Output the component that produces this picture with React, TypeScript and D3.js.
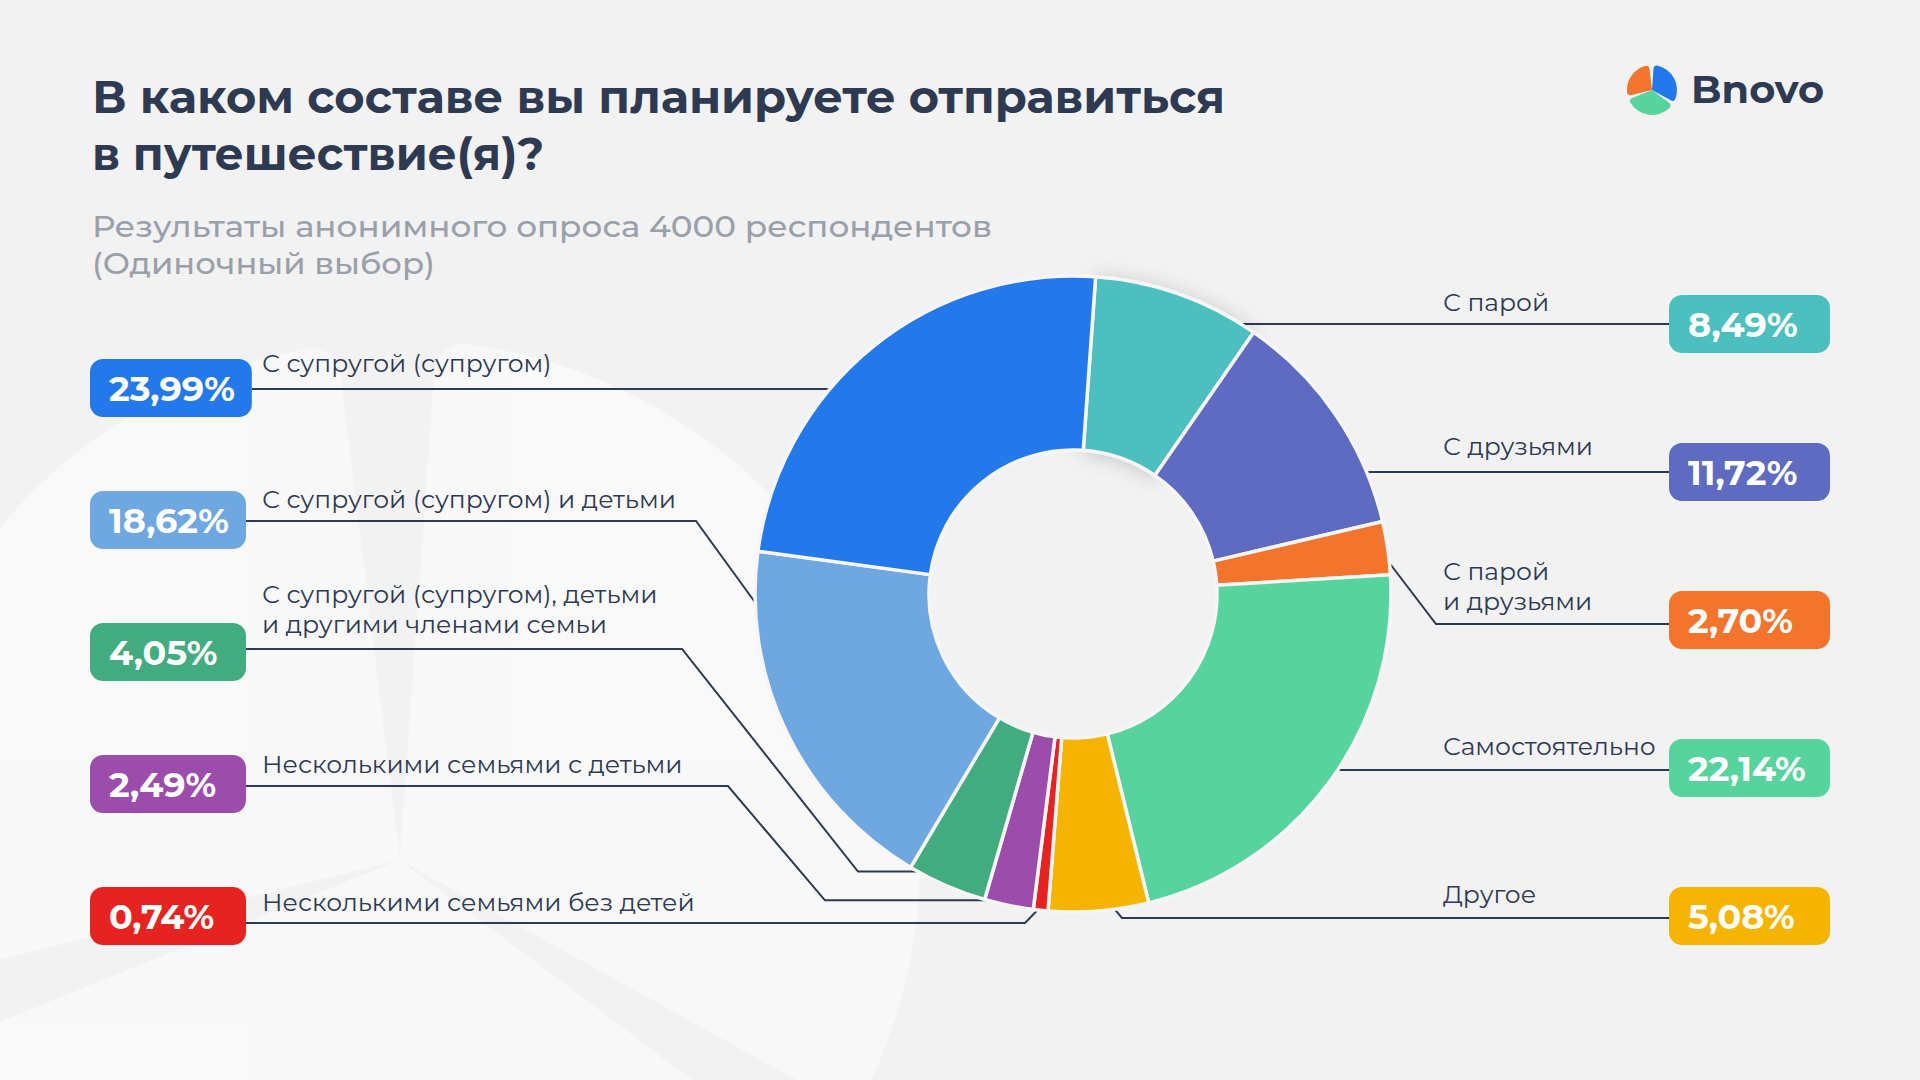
import React, { useMemo } from "react";
import * as d3 from "d3";

// ---------- DATA (pie order, clockwise) ----------
const categories = [
  "С парой",
  "С друзьями",
  "С парой\nи друзьями",
  "Самостоятельно",
  "Другое",
  "Несколькими семьями без детей",
  "Несколькими семьями с детьми",
  "С супругой (супругом), детьми\nи другими членами семьи",
  "С супругой (супругом) и детьми",
  "С супругой (супругом)",
];
const values = [8.49, 11.72, 2.7, 22.14, 5.08, 0.74, 2.49, 4.05, 18.62, 23.99];
const colors = [
  "#4ebfbf",
  "#5e6bc0",
  "#f2742d",
  "#57d49e",
  "#f5b400",
  "#e52421",
  "#9c4dab",
  "#42ac80",
  "#6fa8e0",
  "#2479ea",
];
const titleLines = ["В каком составе вы планируете отправиться", "в путешествие(я)?"];
const subtitleLines = ["Результаты анонимного опроса 4000 респондентов", "(Одиночный выбор)"];
const brand = "Bnovo";

// ---------- LAYOUT ----------
const W = 1920;
const H = 1080;
const CX = 1073;
const CY = 594;
const R_OUT = 318;
const R_IN = 144;
const START_DEG = 4.08;
const FONT = "Montserrat, Inter, 'Open Sans', sans-serif";
const DARK = "#2e3a52";

const leftBadgeCY = [388, 520, 652, 784, 916];
const leftLineY = [389, 521, 649, 786, 923];
const leftLabelBase = [372, 508, 633, 773, 911];
const rightBadgeCY = [324, 472, 620, 768, 916];
const rightLineY = [324, 472, 624, 770, 918];
const rightLabelBase = [311, 455, 610, 755, 903];

type Lay = { side: "L" | "R"; row: number; t?: number; runX?: number; elbowX?: number };
const layout: Lay[] = [
  { side: "R", row: 0 },
  { side: "R", row: 1 },
  { side: "R", row: 2, t: 0.69, elbowX: 1436 },
  { side: "R", row: 3 },
  { side: "R", row: 4, t: 0.36, elbowX: 1122 },
  { side: "L", row: 4, t: 0.55, elbowX: 1025 },
  { side: "L", row: 3, t: 0.7, runX: 825, elbowX: 728 },
  { side: "L", row: 2, t: 0.83, runX: 858, elbowX: 682 },
  { side: "L", row: 1, t: 0.85, elbowX: 696 },
  { side: "L", row: 0 },
];

const LEFT_BADGE_X = 90;
const RIGHT_BADGE_X = 1669;
const RIGHT_BADGE_W = 161;
const BADGE_H = 58;

const fmt = (v: number) => d3.format(".2f")(v).replace(".", ",") + "%";

function measure(text: string, font: string) {
  const c = document.createElement("canvas").getContext("2d");
  if (!c) return text.length * 20;
  c.font = font;
  return c.measureText(text).width;
}

function Logo({ cx, cy, r, pad, corner, colorsSet, opacity }: any) {
  const angles = [
    [0, 123],
    [123, 252],
    [252, 357],
  ];
  const arc = d3
    .arc<any>()
    .innerRadius(0)
    .outerRadius(r)
    .padAngle(pad)
    .cornerRadius(corner);
  return (
    <g transform={`translate(${cx},${cy})`} opacity={opacity}>
      {angles.map((a, i) => (
        <path
          key={i}
          d={
            arc({
              startAngle: (a[0] * Math.PI) / 180,
              endAngle: (a[1] * Math.PI) / 180,
            }) as string
          }
          fill={colorsSet[i]}
        />
      ))}
    </g>
  );
}

export default function App() {
  const arcs = useMemo(
    () =>
      d3
        .pie<number>()
        .sort(null)
        .value((d) => d)
        .startAngle((START_DEG * Math.PI) / 180)
        .endAngle((START_DEG * Math.PI) / 180 + 2 * Math.PI)(values),
    []
  );
  const arcGen = d3.arc<any>().innerRadius(R_IN).outerRadius(R_OUT);
  const lineGen = d3.line();

  const pctFont = `700 35px ${FONT}`;
  const badgeWidths = values.map((v, i) =>
    layout[i].side === "L" ? Math.max(156, measure(fmt(v), pctFont) + 36) : RIGHT_BADGE_W
  );

  const pt = (a: number, rr: number): [number, number] => [
    CX + rr * Math.sin(a),
    CY - rr * Math.cos(a),
  ];

  const leaders = arcs.map((a, i) => {
    const L = layout[i];
    const lineY = L.side === "L" ? leftLineY[L.row] : rightLineY[L.row];
    const badgeEdge = L.side === "L" ? LEFT_BADGE_X + badgeWidths[i] : RIGHT_BADGE_X;
    const pts: [number, number][] = [];
    if (L.t === undefined) {
      const dx = Math.sqrt(Math.max(0, (R_OUT - 3) ** 2 - (lineY - CY) ** 2));
      pts.push([L.side === "L" ? CX - dx : CX + dx, lineY]);
    } else {
      const ang = a.startAngle + L.t * (a.endAngle - a.startAngle);
      const p = pt(ang, R_OUT - 3);
      pts.push(p);
      if (L.runX !== undefined) pts.push([L.runX, p[1]]);
      pts.push([L.elbowX as number, lineY]);
    }
    pts.push([badgeEdge, lineY]);
    return lineGen(pts) as string;
  });

  return (
    <svg
      width={W}
      height={H}
      viewBox={`0 0 ${W} ${H}`}
      style={{ position: "fixed", left: 0, top: 0, display: "block" }}
    >
      <defs>
        <filter id="sh" x="-50%" y="-50%" width="200%" height="200%">
          <feDropShadow dx="0" dy="2" stdDeviation="10" floodColor="#000" floodOpacity="0.18" />
        </filter>
      </defs>
      <rect width={W} height={H} fill="#f2f2f2" />

      {/* watermark */}
      <Logo
        cx={400}
        cy={860}
        r={520}
        pad={0.14}
        corner={30}
        colorsSet={["#ffffff", "#ffffff", "#ffffff"]}
        opacity={0.5}
      />

      {/* title */}
      {titleLines.map((t, i) => (
        <text
          key={i}
          x={92}
          y={113 + i * 57}
          fontFamily={FONT}
          fontWeight={700}
          fontSize={46}
          fill={DARK}
          textLength={i === 0 ? 1133 : 452}
          lengthAdjust="spacingAndGlyphs"
        >
          {t}
        </text>
      ))}
      {subtitleLines.map((t, i) => (
        <text
          key={i}
          x={92}
          y={237 + i * 37}
          fontFamily={FONT}
          fontWeight={500}
          fontSize={30}
          fill="#9aa0aa"
          textLength={i === 0 ? 900 : 343}
          lengthAdjust="spacingAndGlyphs"
        >
          {t}
        </text>
      ))}

      {/* brand logo */}
      <Logo
        cx={1652}
        cy={90}
        r={25}
        pad={0.14}
        corner={3}
        colorsSet={["#2479ea", "#57d49e", "#f2742d"]}
        opacity={1}
      />
      <text
        x={1691}
        y={103}
        fontFamily={FONT}
        fontWeight={700}
        fontSize={38}
        fill={DARK}
        textLength={133}
        lengthAdjust="spacingAndGlyphs"
      >
        {brand}
      </text>

      {/* leader lines */}
      {leaders.map((d, i) => (
        <path key={i} d={d} fill="none" stroke={DARK} strokeWidth={2} />
      ))}

      {/* donut */}
      <g transform={`translate(${CX},${CY})`}>
        {arcs.map((a, i) => (
          <path
            key={i}
            d={arcGen(a) as string}
            fill={colors[i]}
            stroke="#f6f6f6"
            strokeWidth={3.5}
            strokeLinejoin="round"
            filter={i === 0 ? "url(#sh)" : undefined}
          />
        ))}
      </g>

      {/* badges and labels */}
      {values.map((v, i) => {
        const L = layout[i];
        const left = L.side === "L";
        const cy = left ? leftBadgeCY[L.row] : rightBadgeCY[L.row];
        const bx = left ? LEFT_BADGE_X : RIGHT_BADGE_X;
        const lines = categories[i].split("\n");
        const base = left ? leftLabelBase[L.row] : rightLabelBase[L.row];
        const lx = left ? 262 : 1443;
        return (
          <g key={i}>
            <rect
              x={bx}
              y={cy - BADGE_H / 2}
              width={badgeWidths[i]}
              height={BADGE_H}
              rx={13}
              fill={colors[i]}
            />
            <text
              x={bx + 19}
              y={cy + 13}
              fontFamily={FONT}
              fontWeight={700}
              fontSize={35}
              fill="#ffffff"
            >
              {fmt(v)}
            </text>
            {lines.map((ln, k) => (
              <text
                key={k}
                x={lx}
                y={base - (lines.length - 1 - k) * 30}
                fontFamily={FONT}
                fontWeight={400}
                fontSize={25}
                fill={DARK}
              >
                {ln}
              </text>
            ))}
          </g>
        );
      })}
    </svg>
  );
}
